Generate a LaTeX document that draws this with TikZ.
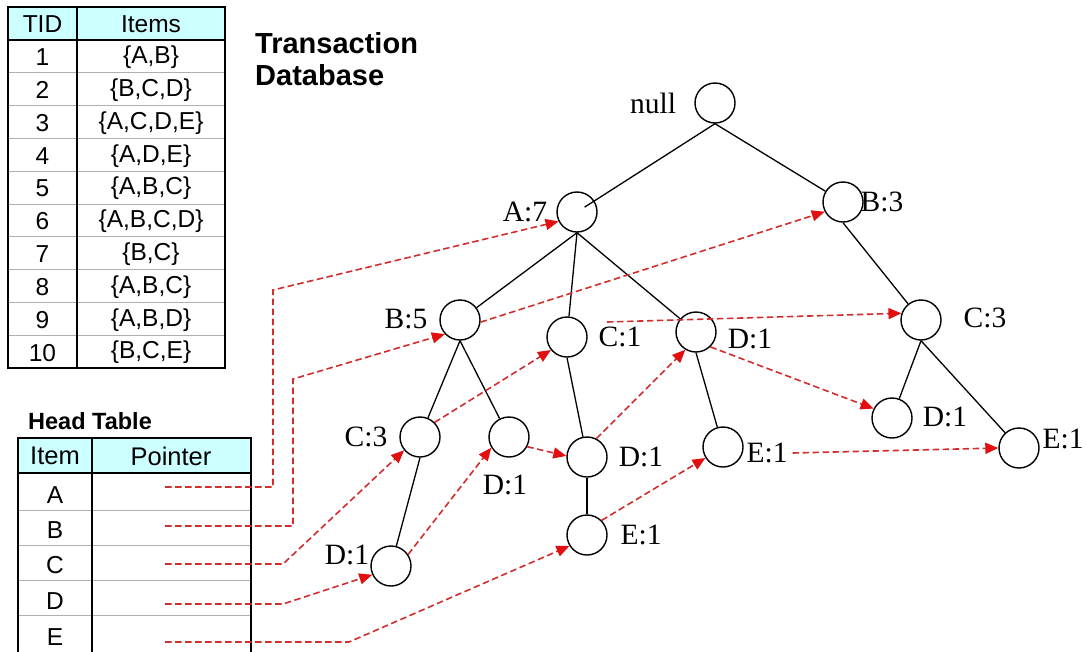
\documentclass[tikz,border=0pt]{standalone}
\usepackage{fontspec}
\setmainfont{Liberation Serif}
\newfontfamily\arialfont{Liberation Sans}
\usetikzlibrary{arrows.meta,calc}
\definecolor{hdrcyan}{RGB}{204,255,255}
\definecolor{ptrred}{RGB}{210,45,45}
\definecolor{tipred}{RGB}{225,15,15}
\definecolor{rulegray}{RGB}{175,175,175}
\begin{document}
\begin{tikzpicture}[x=1pt,y=-1pt,
  fpnode/.style={circle, draw, line width=1.4pt, minimum size=40pt, inner sep=0pt},
  cnt/.style={font=\fontsize{29.5}{31}\selectfont, inner sep=0pt},
  treeedge/.style={line width=1.3pt},
  ptr/.style={draw=ptrred, line width=1.6pt, dash pattern=on 6.5pt off 3.5pt,
    -{Triangle[length=13pt,width=11pt,fill=tipred,color=tipred]}},
  cell/.style={font=\arialfont\fontsize{24.5}{26}\selectfont, inner sep=0pt},
  title/.style={font=\arialfont\bfseries\fontsize{29}{31}\selectfont, inner sep=0pt},
  gridline/.style={draw=rulegray, line width=0.8pt},
  frame/.style={line width=1.8pt}]
\useasboundingbox (0,0) rectangle (1086,651);

% ---------- transaction database table ----------
\fill[hdrcyan] (8,7) rectangle (225,40);
\foreach \i in {1,...,9} \draw[gridline] (8,{40+32.8*\i}) -- (225,{40+32.8*\i});
\draw[frame] (8,7) rectangle (225,368);
\draw[frame] (8,40) -- (225,40);
\draw[frame] (77,7) -- (77,368);
\node[cell] (tidh) at (42.5,24) {TID};
\node[cell] (itemsh) at (151,24) {Items};
\foreach \i/\s in {1/{\{A,B\}},2/{\{B,C,D\}},3/{\{A,C,D,E\}},4/{\{A,D,E\}},
  5/{\{A,B,C\}},6/{\{A,B,C,D\}},7/{\{B,C\}},8/{\{A,B,C\}},9/{\{A,B,D\}},10/{\{B,C,E\}}}{
  \node[cell] (tid\i) at (42.5,{40+32.8*(\i-0.5)+1}) {\i};
  \node[cell] (it\i) at (151,{40+32.8*(\i-0.5)+1}) {\s};
}
\node[title, anchor=base west] (tdb1) at (255,53) {Transaction};
\node[title, anchor=base west] (tdb2) at (255,85) {Database};

% ---------- head table ----------
\node[cell, font=\arialfont\bfseries\fontsize{23.5}{25}\selectfont, anchor=base west] (headt) at (28,429) {Head Table};
\fill[hdrcyan] (18,438) rectangle (251,473);
\foreach \y in {510,545,580,615} \draw[gridline] (18,\y) -- (251,\y);
\draw[frame] (18,652) -- (18,438) -- (251,438) -- (251,652);
\draw[frame] (18,473) -- (251,473);
\draw[frame] (92,438) -- (92,652);
\node[cell, font=\arialfont\fontsize{25.5}{27}\selectfont] (itemh) at (55,456) {Item};
\node[cell, font=\arialfont\fontsize{25.5}{27}\selectfont] (ptrh) at (171,456) {Pointer};
\foreach \n/\y in {A/495,B/530,C/565,D/601,E/637}
  \node[cell] (h\n) at (55,\y) {\n};

% ---------- FP-tree nodes ----------
\node[fpnode] (nul) at (715,103) {};
\node[fpnode] (A7)  at (577,212) {};
\node[fpnode] (B3)  at (843,202) {};
\node[fpnode] (B5)  at (460,320) {};
\node[fpnode] (C1)  at (567,337) {};
\node[fpnode] (D1d) at (696,332) {};
\node[fpnode] (C3b) at (921,320) {};
\node[fpnode] (D1e) at (892,418) {};
\node[fpnode] (E1c) at (1019,448) {};
\node[fpnode] (E1a) at (723,447) {};
\node[fpnode] (D1b) at (587,457) {};
\node[fpnode] (E1b) at (587,535) {};
\node[fpnode] (C3a) at (420,437) {};
\node[fpnode] (D1a) at (509,437) {};
\node[fpnode] (D1c) at (391,566) {};

% counts
\node[cnt] (nulL) at (653,103) {null};
\node[cnt] (A7L)  at (525,212) {A:7};
\node[cnt] (B3L)  at (882,202) {B:3};
\node[cnt] (B5L)  at (406,319) {B:5};
\node[cnt] (C1L)  at (620,337) {C:1};
\node[cnt] (D1dL) at (750,339) {D:1};
\node[cnt] (C3bL) at (985,318) {C:3};
\node[cnt] (D1eL) at (945,417) {D:1};
\node[cnt] (E1cL) at (1063,439) {E:1};
\node[cnt] (E1aL) at (767,453) {E:1};
\node[cnt] (D1bL) at (641,457) {D:1};
\node[cnt] (E1bL) at (641,535) {E:1};
\node[cnt] (C3aL) at (366,437) {C:3};
\node[cnt] (D1aL) at (505,485) {D:1};
\node[cnt] (D1cL) at (347,555) {D:1};

% tree edges
\draw[treeedge, shorten >=9pt] (nul.south) -- (A7.center);
\draw[treeedge] (nul.south) -- (B3);
\draw[treeedge] (A7.south) -- (B5);
\draw[treeedge] (A7.south) -- (C1);
\draw[treeedge] (A7.south) -- (D1d);
\draw[treeedge] (B3.south) -- (C3b);
\draw[treeedge] (C3b.south) -- (D1e);
\draw[treeedge] (C3b.south) -- (E1c);
\draw[treeedge] (B5.south) -- (C3a);
\draw[treeedge] (B5.south) -- (D1a);
\draw[treeedge] (C1.south) -- (D1b);
\draw[treeedge] (D1b.south) -- (E1b);
\draw[treeedge] (D1d.south) -- (E1a);
\draw[treeedge] (C3a.south) -- (D1c);

% ---------- node-links from the head table ----------
\coordinate (pA) at (165,487);
\coordinate (pB) at (165,526);
\coordinate (pC) at (165,564);
\coordinate (pD) at (165,604);
\coordinate (pE) at (165,642);
\coordinate (kA1) at (273,487);
\coordinate (kA2) at (273,290);
\coordinate (kB1) at (293,526);
\coordinate (kB2) at (293,379);
\coordinate (kC) at (283,564);
\coordinate (kD) at (283,604);
\coordinate (kE) at (349,642);
\draw[ptr] (pA) -- (kA1) -- (kA2) -- (A7.207);
\draw[ptr] (pB) -- (kB1) -- (kB2) -- (B5.223);
\draw[ptr] (pC) -- (kC) -- (C3a.220);
\draw[ptr] (pD) -- (kD) -- (D1c.205);
\draw[ptr] (pE) -- (kE) -- (E1b.212);

% ---------- node-links between tree nodes ----------
\coordinate (c1start) at (607,322);
\draw[ptr] (B5.354) -- (B3.208);
\draw[ptr] (C3a.45) -- (C1.219);
\draw[ptr] (c1start) -- (C3b.161);
\draw[ptr] (D1c.34) -- (D1a.211);
\draw[ptr] (D1a.332) -- (D1b.177);
\draw[ptr] (D1b.63) -- (D1d.239);
\draw[ptr] (D1d.314) -- (D1e.153);
\draw[ptr] (E1b.45) -- (E1a.212);
\draw[ptr] (E1aL.east) ++(5,0) -- (E1c.180);
\end{tikzpicture}
\end{document}
